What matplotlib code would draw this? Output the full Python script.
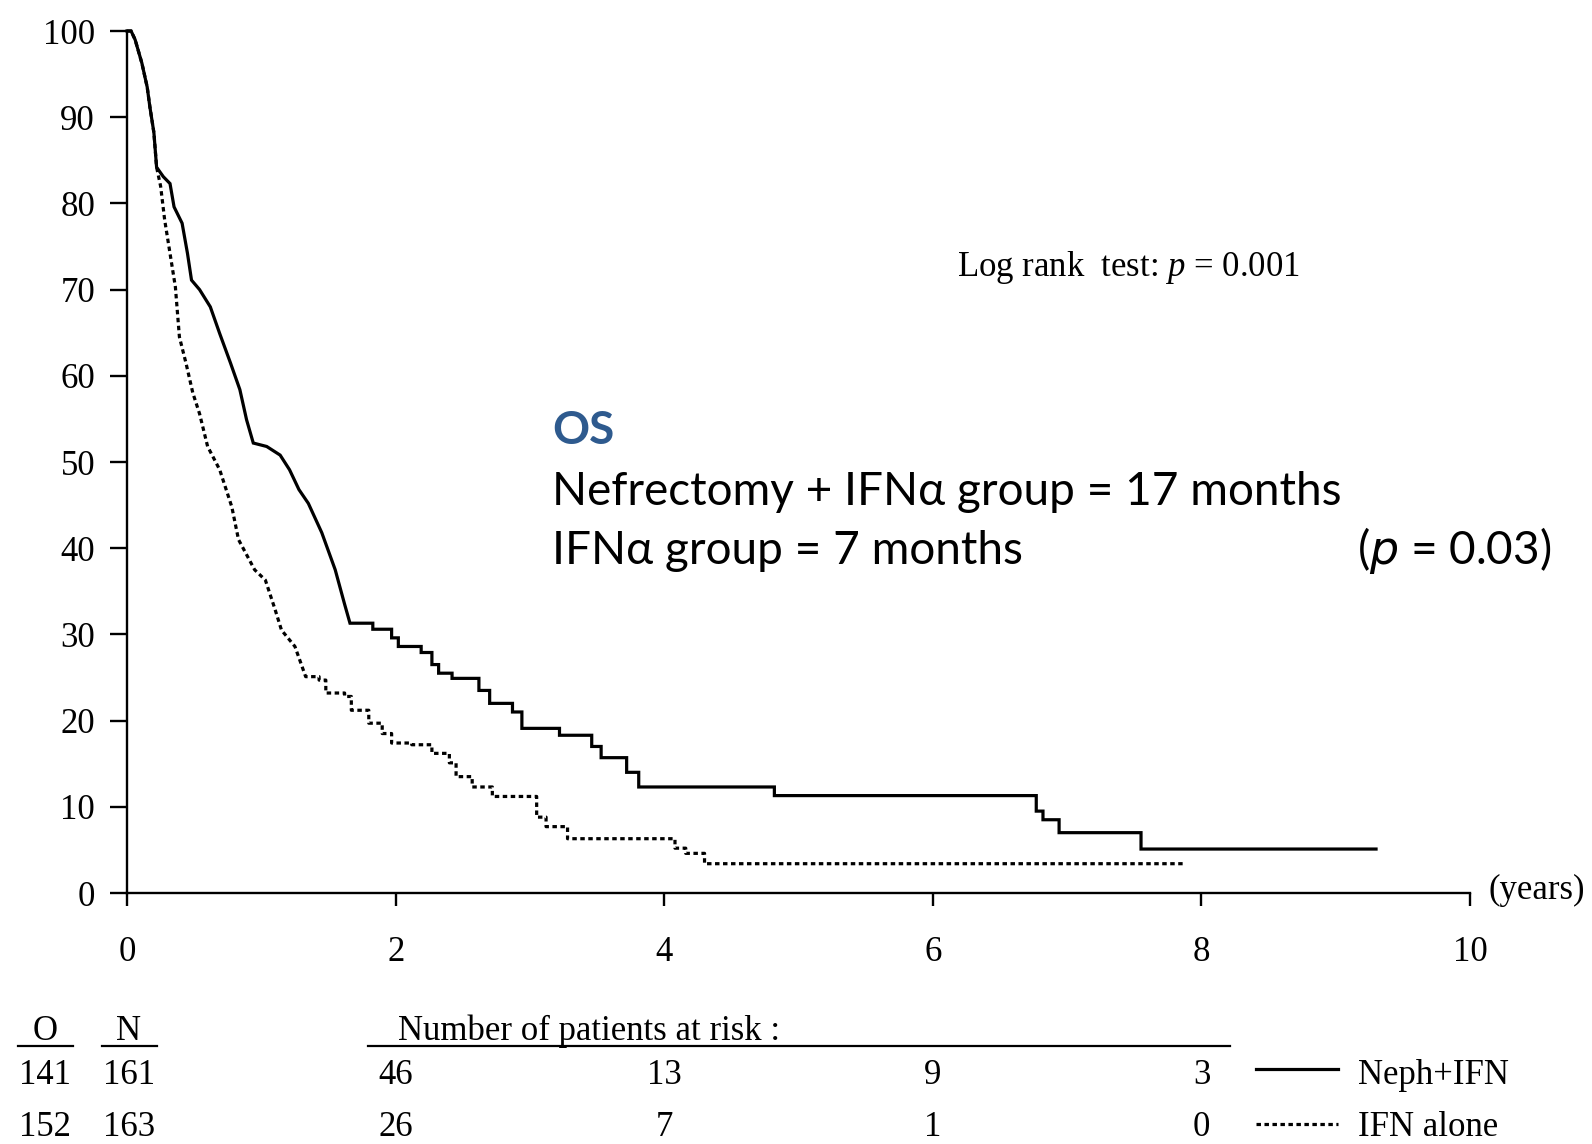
import matplotlib
matplotlib.use('Agg')
import matplotlib.pyplot as plt
from matplotlib.lines import Line2D
from matplotlib.transforms import blended_transform_factory

# ---- data ----
# Early, steep part of each curve: traced vertices (tiny KM steps blur into a line)
neph_trace_t = [0, 0.03, 0.06, 0.11, 0.15, 0.17, 0.20, 0.22, 0.27, 0.32, 0.35, 0.41, 0.45,
                0.48, 0.54, 0.62, 0.69, 0.77, 0.84, 0.89, 0.94, 1.04, 1.14, 1.21, 1.28,
                1.35, 1.45, 1.55, 1.62, 1.66]
neph_trace_s = [100, 100, 99, 96.3, 93.5, 91.2, 88.2, 84.2, 83.1, 82.3, 79.6, 77.7, 74.2,
                71.1, 70.0, 68.0, 64.9, 61.5, 58.4, 54.9, 52.2, 51.8, 50.8, 49.1, 46.8,
                45.2, 41.8, 37.5, 33.5, 31.3]
# Later part: Kaplan-Meier steps (time of drop, survival after drop)
neph_step_t = [1.66, 1.83, 1.97, 2.02, 2.19, 2.27, 2.32, 2.42, 2.62, 2.70, 2.87, 2.94,
               3.22, 3.46, 3.53, 3.72, 3.81, 4.82, 6.77, 6.82, 6.94, 7.55, 9.30]
neph_step_s = [31.3, 30.6, 29.6, 28.6, 27.9, 26.5, 25.5, 24.9, 23.5, 22.0, 21.0, 19.1,
               18.3, 17.0, 15.7, 14.0, 12.3, 11.3, 9.5, 8.5, 7.0, 5.1, 5.1]

ifn_trace_t = [0, 0.03, 0.06, 0.11, 0.15, 0.17, 0.20, 0.22, 0.25, 0.28, 0.32, 0.36, 0.39,
               0.44, 0.49, 0.54, 0.60, 0.69, 0.78, 0.83, 0.95, 1.03, 1.10, 1.15, 1.25, 1.33]
ifn_trace_s = [100, 100, 99, 96.3, 93.5, 91.2, 88.2, 84.2, 82.0, 78.1, 74.2, 70.3, 64.5,
               61.4, 58.0, 55.6, 51.8, 49.1, 44.8, 41.0, 37.5, 36.3, 33.0, 30.5, 28.6, 25.1]
ifn_step_t = [1.33, 1.43, 1.48, 1.62, 1.67, 1.80, 1.90, 1.97, 2.12, 2.27, 2.40, 2.45,
              2.57, 2.72, 3.05, 3.12, 3.28, 4.08, 4.16, 4.30, 7.86]
ifn_step_s = [25.1, 24.7, 23.2, 22.8, 21.2, 19.7, 18.5, 17.4, 17.2, 16.2, 15.1, 13.5,
              12.3, 11.2, 8.8, 7.7, 6.3, 5.2, 4.6, 3.4, 3.4]

x_ticks = [0, 2, 4, 6, 8, 10]
y_ticks = [0, 10, 20, 30, 40, 50, 60, 70, 80, 90, 100]
risk_times = [2, 4, 6, 8]
risk_neph = [46, 13, 9, 3]
risk_ifn = [26, 7, 1, 0]
observed = [141, 152]
n_total = [161, 163]
group_labels = ['Neph+IFN', 'IFN alone']
os_lines = ['Nefrectomy + IFNα group = 17 months', 'IFNα group = 7 months']

plt.rcParams['mathtext.fontset'] = 'custom'
plt.rcParams['mathtext.rm'] = 'Liberation Serif'
plt.rcParams['mathtext.it'] = 'Liberation Serif:italic'

SERIF = 'Liberation Serif'
SANS = ['Lato', 'DejaVu Sans']
FS = 25
DOT = (0, (1.4, 1.1))


def km_path(trace_t, trace_s, step_t, step_s):
    xs, ys = list(trace_t), list(trace_s)
    for i in range(1, len(step_t)):
        xs += [step_t[i], step_t[i]]
        ys += [step_s[i - 1], step_s[i]]
    return xs, ys


fig = plt.figure(figsize=(15.92, 11.44), dpi=100)
ax = fig.add_axes([0.0798, 0.2194, 0.8436, 0.7535])

nx, ny = km_path(neph_trace_t, neph_trace_s, neph_step_t, neph_step_s)
ix, iy = km_path(ifn_trace_t, ifn_trace_s, ifn_step_t, ifn_step_s)
ax.plot(nx, ny, color='black', lw=2.3, clip_on=False, solid_joinstyle='miter')
ax.plot(ix, iy, color='black', lw=2.3, linestyle=DOT, clip_on=False)

ax.set_xlim(0, 10)
ax.set_ylim(0, 100)
ax.set_xticks(x_ticks)
ax.set_yticks(y_ticks)
ax.set_xticklabels([str(v) for v in x_ticks], fontfamily=SERIF, fontsize=FS)
ax.set_yticklabels([str(v) for v in y_ticks], fontfamily=SERIF, fontsize=FS)
for s in ['top', 'right']:
    ax.spines[s].set_visible(False)
for s in ['left', 'bottom']:
    ax.spines[s].set_linewidth(1.7)
ax.tick_params(axis='y', direction='out', length=12, width=1.7, pad=11)
ax.tick_params(axis='x', direction='out', length=9, width=1.7, pad=22)

# axis unit label
fig.text(0.935, 0.214, '(years)', fontfamily=SERIF, fontsize=FS, ha='left', va='baseline')

# log rank annotation
fig.text(0.601, 0.7587, r'Log rank  test: $\mathit{p}$ = 0.001', fontfamily=SERIF,
         fontsize=25, ha='left', va='baseline')

# OS block
OSFS = 33
fig.text(0.3467, 0.6122, 'OS', fontfamily=SANS, fontsize=OSFS, fontweight='bold',
         color='#2E5A8E', ha='left', va='baseline')
fig.text(0.3467, 0.5589, os_lines[0], fontfamily=SANS, fontsize=OSFS,
         ha='left', va='baseline')
fig.text(0.3467, 0.5066, os_lines[1], fontfamily=SANS, fontsize=OSFS,
         ha='left', va='baseline')
fig.text(0.9742, 0.5066, '($\\it{p}$ = 0.03)', fontfamily=SANS, fontsize=OSFS,
         ha='right', va='baseline', math_fontfamily='dejavusans')

# at-risk table
hdr_y = 0.0912
line_y = 0.0858
row_y = [0.0522, 0.0070]
col_o = 0.0281
col_n = 0.081
fig.text(col_o, hdr_y, 'O', fontfamily=SERIF, fontsize=FS, ha='center', va='baseline')
fig.text(col_n, hdr_y, 'N', fontfamily=SERIF, fontsize=FS, ha='center', va='baseline')
fig.text(0.25, hdr_y, 'Number of patients at risk :', fontfamily=SERIF, fontsize=FS,
         ha='left', va='baseline')
for x0, x1 in [(0.0115, 0.0459), (0.0638, 0.0989), (0.2309, 0.7729)]:
    fig.add_artist(Line2D([x0, x1], [line_y, line_y], color='black', lw=1.6,
                          transform=fig.transFigure))

trans = blended_transform_factory(ax.transData, fig.transFigure)
for i, risks in enumerate([risk_neph, risk_ifn]):
    fig.text(col_o, row_y[i], str(observed[i]), fontfamily=SERIF, fontsize=FS,
             ha='center', va='baseline')
    fig.text(col_n, row_y[i], str(n_total[i]), fontfamily=SERIF, fontsize=FS,
             ha='center', va='baseline')
    for t, r in zip(risk_times, risks):
        ax.text(t, row_y[i], str(r), transform=trans, fontfamily=SERIF, fontsize=FS,
                ha='center', va='baseline')

# legend
leg_y = [0.0655, 0.0175]
styles = ['-', DOT]
for i in range(2):
    fig.add_artist(Line2D([0.789, 0.8405], [leg_y[i], leg_y[i]], color='black', lw=2.3,
                          linestyle=styles[i], transform=fig.transFigure))
    fig.text(0.8533, row_y[i], group_labels[i], fontfamily=SERIF, fontsize=FS,
             ha='left', va='baseline')

fig.savefig('out.png', dpi=100)
